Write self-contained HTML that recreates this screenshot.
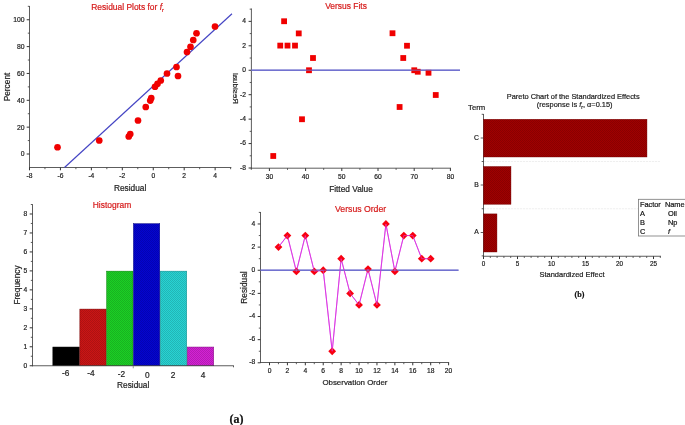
<!DOCTYPE html>
<html lang="en">
<head>
<meta charset="utf-8">
<title>Residual Plots and Pareto Chart</title>
<style>
html,body{margin:0;padding:0;background:#fff;}
body{width:685px;height:425px;overflow:hidden;}
svg{display:block;font-family:"Liberation Sans",Arial,sans-serif;}
text{stroke-width:0.2px;}
</style>
</head>
<body>
<svg width="685" height="425" viewBox="0 0 685 425">
<rect width="685" height="425" fill="#ffffff"/>
<defs>
<pattern id="hx" width="2" height="2" patternUnits="userSpaceOnUse">
<rect x="0" y="0" width="1" height="1" fill="#000" fill-opacity="0.14" shape-rendering="crispEdges"/>
<rect x="1" y="1" width="1" height="1" fill="#000" fill-opacity="0.14" shape-rendering="crispEdges"/>
</pattern>
</defs>
<line x1="29.50" y1="6.00" x2="29.50" y2="168.00" stroke="#404040" stroke-width="0.85" />
<line x1="26.70" y1="154.00" x2="29.50" y2="154.00" stroke="#333" stroke-width="1.0" />
<text x="24.50" y="156.45" font-size="6.8" text-anchor="end" fill="#222" stroke="#222" >0</text>
<line x1="26.70" y1="127.15" x2="29.50" y2="127.15" stroke="#333" stroke-width="1.0" />
<text x="24.50" y="129.60" font-size="6.8" text-anchor="end" fill="#222" stroke="#222" >20</text>
<line x1="26.70" y1="100.30" x2="29.50" y2="100.30" stroke="#333" stroke-width="1.0" />
<text x="24.50" y="102.75" font-size="6.8" text-anchor="end" fill="#222" stroke="#222" >40</text>
<line x1="26.70" y1="73.45" x2="29.50" y2="73.45" stroke="#333" stroke-width="1.0" />
<text x="24.50" y="75.90" font-size="6.8" text-anchor="end" fill="#222" stroke="#222" >60</text>
<line x1="26.70" y1="46.60" x2="29.50" y2="46.60" stroke="#333" stroke-width="1.0" />
<text x="24.50" y="49.05" font-size="6.8" text-anchor="end" fill="#222" stroke="#222" >80</text>
<line x1="26.70" y1="19.75" x2="29.50" y2="19.75" stroke="#333" stroke-width="1.0" />
<text x="24.50" y="22.20" font-size="6.8" text-anchor="end" fill="#222" stroke="#222" >100</text>
<line x1="27.80" y1="140.57" x2="29.50" y2="140.57" stroke="#404040" stroke-width="0.85" />
<line x1="27.80" y1="113.72" x2="29.50" y2="113.72" stroke="#404040" stroke-width="0.85" />
<line x1="27.80" y1="86.88" x2="29.50" y2="86.88" stroke="#404040" stroke-width="0.85" />
<line x1="27.80" y1="60.02" x2="29.50" y2="60.02" stroke="#404040" stroke-width="0.85" />
<line x1="27.80" y1="33.17" x2="29.50" y2="33.17" stroke="#404040" stroke-width="0.85" />
<line x1="27.80" y1="6.32" x2="29.50" y2="6.32" stroke="#404040" stroke-width="0.85" />
<line x1="29.00" y1="167.50" x2="231.30" y2="167.50" stroke="#404040" stroke-width="0.85" />
<line x1="29.49" y1="167.50" x2="29.49" y2="170.30" stroke="#333" stroke-width="1.0" />
<text x="29.49" y="178.16" font-size="6.7" text-anchor="middle" fill="#222" stroke="#222" >-8</text>
<line x1="60.43" y1="167.50" x2="60.43" y2="170.30" stroke="#333" stroke-width="1.0" />
<text x="60.43" y="178.16" font-size="6.7" text-anchor="middle" fill="#222" stroke="#222" >-6</text>
<line x1="91.37" y1="167.50" x2="91.37" y2="170.30" stroke="#333" stroke-width="1.0" />
<text x="91.37" y="178.16" font-size="6.7" text-anchor="middle" fill="#222" stroke="#222" >-4</text>
<line x1="122.31" y1="167.50" x2="122.31" y2="170.30" stroke="#333" stroke-width="1.0" />
<text x="122.31" y="178.16" font-size="6.7" text-anchor="middle" fill="#222" stroke="#222" >-2</text>
<line x1="153.25" y1="167.50" x2="153.25" y2="170.30" stroke="#333" stroke-width="1.0" />
<text x="153.25" y="178.16" font-size="6.7" text-anchor="middle" fill="#222" stroke="#222" >0</text>
<line x1="184.19" y1="167.50" x2="184.19" y2="170.30" stroke="#333" stroke-width="1.0" />
<text x="184.19" y="178.16" font-size="6.7" text-anchor="middle" fill="#222" stroke="#222" >2</text>
<line x1="215.13" y1="167.50" x2="215.13" y2="170.30" stroke="#333" stroke-width="1.0" />
<text x="215.13" y="178.16" font-size="6.7" text-anchor="middle" fill="#222" stroke="#222" >4</text>
<line x1="44.96" y1="167.50" x2="44.96" y2="169.20" stroke="#404040" stroke-width="0.85" />
<line x1="75.90" y1="167.50" x2="75.90" y2="169.20" stroke="#404040" stroke-width="0.85" />
<line x1="106.84" y1="167.50" x2="106.84" y2="169.20" stroke="#404040" stroke-width="0.85" />
<line x1="137.78" y1="167.50" x2="137.78" y2="169.20" stroke="#404040" stroke-width="0.85" />
<line x1="168.72" y1="167.50" x2="168.72" y2="169.20" stroke="#404040" stroke-width="0.85" />
<line x1="199.66" y1="167.50" x2="199.66" y2="169.20" stroke="#404040" stroke-width="0.85" />
<line x1="230.60" y1="167.50" x2="230.60" y2="169.20" stroke="#404040" stroke-width="0.85" />
<line x1="64.50" y1="167.50" x2="232.00" y2="13.75" stroke="#4444c4" stroke-width="1.15" />
<circle cx="57.5" cy="147.25" r="3.35" fill="#f00000"/>
<circle cx="99.25" cy="140.5" r="3.35" fill="#f00000"/>
<circle cx="128.75" cy="136.5" r="3.35" fill="#f00000"/>
<circle cx="130.25" cy="134" r="3.35" fill="#f00000"/>
<circle cx="138" cy="120.5" r="3.35" fill="#f00000"/>
<circle cx="145.75" cy="107" r="3.35" fill="#f00000"/>
<circle cx="150.25" cy="100.6" r="3.35" fill="#f00000"/>
<circle cx="151.25" cy="98" r="3.35" fill="#f00000"/>
<circle cx="155" cy="86.75" r="3.35" fill="#f00000"/>
<circle cx="157.5" cy="83.75" r="3.35" fill="#f00000"/>
<circle cx="160.75" cy="80.5" r="3.35" fill="#f00000"/>
<circle cx="167" cy="73.5" r="3.35" fill="#f00000"/>
<circle cx="176.5" cy="67" r="3.35" fill="#f00000"/>
<circle cx="178" cy="76" r="3.35" fill="#f00000"/>
<circle cx="187" cy="52" r="3.35" fill="#f00000"/>
<circle cx="190.5" cy="46.75" r="3.35" fill="#f00000"/>
<circle cx="193.25" cy="40" r="3.35" fill="#f00000"/>
<circle cx="196.5" cy="33.25" r="3.35" fill="#f00000"/>
<circle cx="215" cy="26.5" r="3.35" fill="#f00000"/>
<text x="127.60" y="10.00" font-size="8.45" text-anchor="middle" fill="#d61a1a" stroke="#d61a1a" >Residual Plots for <tspan font-style="italic">f</tspan><tspan font-size="5.5" dy="2">r</tspan></text>
<text transform="translate(6.50 87.00) rotate(-90)" font-size="8.3" text-anchor="middle" fill="#222" stroke="#222" dominant-baseline="central">Percent</text>
<text x="130.10" y="191.00" font-size="8.3" text-anchor="middle" fill="#222" stroke="#222" >Residual</text>
<line x1="251.40" y1="8.50" x2="251.40" y2="168.70" stroke="#404040" stroke-width="0.85" />
<line x1="248.60" y1="168.01" x2="251.40" y2="168.01" stroke="#333" stroke-width="1.0" />
<text x="246.00" y="169.92" font-size="6.7" text-anchor="end" fill="#222" stroke="#222" >-8</text>
<line x1="248.60" y1="143.57" x2="251.40" y2="143.57" stroke="#333" stroke-width="1.0" />
<text x="246.00" y="145.48" font-size="6.7" text-anchor="end" fill="#222" stroke="#222" >-6</text>
<line x1="248.60" y1="119.13" x2="251.40" y2="119.13" stroke="#333" stroke-width="1.0" />
<text x="246.00" y="121.04" font-size="6.7" text-anchor="end" fill="#222" stroke="#222" >-4</text>
<line x1="248.60" y1="94.69" x2="251.40" y2="94.69" stroke="#333" stroke-width="1.0" />
<text x="246.00" y="96.60" font-size="6.7" text-anchor="end" fill="#222" stroke="#222" >-2</text>
<line x1="248.60" y1="70.25" x2="251.40" y2="70.25" stroke="#333" stroke-width="1.0" />
<text x="246.00" y="72.16" font-size="6.7" text-anchor="end" fill="#222" stroke="#222" >0</text>
<line x1="248.60" y1="45.81" x2="251.40" y2="45.81" stroke="#333" stroke-width="1.0" />
<text x="246.00" y="47.72" font-size="6.7" text-anchor="end" fill="#222" stroke="#222" >2</text>
<line x1="248.60" y1="21.37" x2="251.40" y2="21.37" stroke="#333" stroke-width="1.0" />
<text x="246.00" y="23.28" font-size="6.7" text-anchor="end" fill="#222" stroke="#222" >4</text>
<line x1="249.70" y1="155.79" x2="251.40" y2="155.79" stroke="#404040" stroke-width="0.85" />
<line x1="249.70" y1="131.35" x2="251.40" y2="131.35" stroke="#404040" stroke-width="0.85" />
<line x1="249.70" y1="106.91" x2="251.40" y2="106.91" stroke="#404040" stroke-width="0.85" />
<line x1="249.70" y1="82.47" x2="251.40" y2="82.47" stroke="#404040" stroke-width="0.85" />
<line x1="249.70" y1="58.03" x2="251.40" y2="58.03" stroke="#404040" stroke-width="0.85" />
<line x1="249.70" y1="33.59" x2="251.40" y2="33.59" stroke="#404040" stroke-width="0.85" />
<line x1="249.70" y1="9.15" x2="251.40" y2="9.15" stroke="#404040" stroke-width="0.85" />
<line x1="250.90" y1="168.20" x2="451.00" y2="168.20" stroke="#404040" stroke-width="0.85" />
<line x1="269.40" y1="168.20" x2="269.40" y2="171.00" stroke="#333" stroke-width="1.0" />
<text x="269.40" y="178.66" font-size="6.7" text-anchor="middle" fill="#222" stroke="#222" >30</text>
<line x1="305.60" y1="168.20" x2="305.60" y2="171.00" stroke="#333" stroke-width="1.0" />
<text x="305.60" y="178.66" font-size="6.7" text-anchor="middle" fill="#222" stroke="#222" >40</text>
<line x1="341.80" y1="168.20" x2="341.80" y2="171.00" stroke="#333" stroke-width="1.0" />
<text x="341.80" y="178.66" font-size="6.7" text-anchor="middle" fill="#222" stroke="#222" >50</text>
<line x1="378.00" y1="168.20" x2="378.00" y2="171.00" stroke="#333" stroke-width="1.0" />
<text x="378.00" y="178.66" font-size="6.7" text-anchor="middle" fill="#222" stroke="#222" >60</text>
<line x1="414.20" y1="168.20" x2="414.20" y2="171.00" stroke="#333" stroke-width="1.0" />
<text x="414.20" y="178.66" font-size="6.7" text-anchor="middle" fill="#222" stroke="#222" >70</text>
<line x1="450.40" y1="168.20" x2="450.40" y2="171.00" stroke="#333" stroke-width="1.0" />
<text x="450.40" y="178.66" font-size="6.7" text-anchor="middle" fill="#222" stroke="#222" >80</text>
<line x1="251.30" y1="168.20" x2="251.30" y2="169.90" stroke="#404040" stroke-width="0.85" />
<line x1="287.50" y1="168.20" x2="287.50" y2="169.90" stroke="#404040" stroke-width="0.85" />
<line x1="323.70" y1="168.20" x2="323.70" y2="169.90" stroke="#404040" stroke-width="0.85" />
<line x1="359.90" y1="168.20" x2="359.90" y2="169.90" stroke="#404040" stroke-width="0.85" />
<line x1="396.10" y1="168.20" x2="396.10" y2="169.90" stroke="#404040" stroke-width="0.85" />
<line x1="432.30" y1="168.20" x2="432.30" y2="169.90" stroke="#404040" stroke-width="0.85" />
<line x1="251.40" y1="70.25" x2="460.00" y2="70.25" stroke="#7272d0" stroke-width="1.5" />
<rect x="281.20" y="18.35" width="5.8" height="5.8" fill="#f00000"/>
<rect x="277.35" y="42.70" width="5.8" height="5.8" fill="#f00000"/>
<rect x="284.60" y="42.70" width="5.8" height="5.8" fill="#f00000"/>
<rect x="292.10" y="42.70" width="5.8" height="5.8" fill="#f00000"/>
<rect x="295.85" y="30.50" width="5.8" height="5.8" fill="#f00000"/>
<rect x="310.10" y="55.10" width="5.8" height="5.8" fill="#f00000"/>
<rect x="306.10" y="67.35" width="5.8" height="5.8" fill="#f00000"/>
<rect x="299.10" y="116.35" width="5.8" height="5.8" fill="#f00000"/>
<rect x="270.35" y="153.10" width="5.8" height="5.8" fill="#f00000"/>
<rect x="389.60" y="30.35" width="5.8" height="5.8" fill="#f00000"/>
<rect x="404.10" y="42.85" width="5.8" height="5.8" fill="#f00000"/>
<rect x="400.35" y="55.10" width="5.8" height="5.8" fill="#f00000"/>
<rect x="411.35" y="67.35" width="5.8" height="5.8" fill="#f00000"/>
<rect x="414.85" y="68.85" width="5.8" height="5.8" fill="#f00000"/>
<rect x="425.60" y="69.85" width="5.8" height="5.8" fill="#f00000"/>
<rect x="432.85" y="92.10" width="5.8" height="5.8" fill="#f00000"/>
<rect x="396.70" y="104.10" width="5.8" height="5.8" fill="#f00000"/>
<line x1="251.40" y1="70.25" x2="460.00" y2="70.25" stroke="#7272d0" stroke-width="1.5" stroke-opacity="0.55"/>
<text x="346.00" y="8.50" font-size="8.45" text-anchor="middle" fill="#d61a1a" stroke="#d61a1a" >Versus Fits</text>
<text transform="translate(235.40 88.50) rotate(-90) scale(0.97 -0.85)" font-size="8.3" text-anchor="middle" fill="#222" stroke="#222" dominant-baseline="central">Residual</text>
<text x="351.00" y="191.70" font-size="8.3" text-anchor="middle" fill="#222" stroke="#222" >Fitted Value</text>
<line x1="32.50" y1="204.25" x2="32.50" y2="366.25" stroke="#404040" stroke-width="0.85" />
<line x1="29.70" y1="365.75" x2="32.50" y2="365.75" stroke="#333" stroke-width="1.0" />
<text x="27.20" y="368.16" font-size="6.7" text-anchor="end" fill="#222" stroke="#222" >0</text>
<line x1="29.70" y1="346.78" x2="32.50" y2="346.78" stroke="#333" stroke-width="1.0" />
<text x="27.20" y="349.19" font-size="6.7" text-anchor="end" fill="#222" stroke="#222" >1</text>
<line x1="29.70" y1="327.81" x2="32.50" y2="327.81" stroke="#333" stroke-width="1.0" />
<text x="27.20" y="330.22" font-size="6.7" text-anchor="end" fill="#222" stroke="#222" >2</text>
<line x1="29.70" y1="308.84" x2="32.50" y2="308.84" stroke="#333" stroke-width="1.0" />
<text x="27.20" y="311.25" font-size="6.7" text-anchor="end" fill="#222" stroke="#222" >3</text>
<line x1="29.70" y1="289.87" x2="32.50" y2="289.87" stroke="#333" stroke-width="1.0" />
<text x="27.20" y="292.28" font-size="6.7" text-anchor="end" fill="#222" stroke="#222" >4</text>
<line x1="29.70" y1="270.90" x2="32.50" y2="270.90" stroke="#333" stroke-width="1.0" />
<text x="27.20" y="273.31" font-size="6.7" text-anchor="end" fill="#222" stroke="#222" >5</text>
<line x1="29.70" y1="251.93" x2="32.50" y2="251.93" stroke="#333" stroke-width="1.0" />
<text x="27.20" y="254.34" font-size="6.7" text-anchor="end" fill="#222" stroke="#222" >6</text>
<line x1="29.70" y1="232.96" x2="32.50" y2="232.96" stroke="#333" stroke-width="1.0" />
<text x="27.20" y="235.37" font-size="6.7" text-anchor="end" fill="#222" stroke="#222" >7</text>
<line x1="29.70" y1="213.99" x2="32.50" y2="213.99" stroke="#333" stroke-width="1.0" />
<text x="27.20" y="216.40" font-size="6.7" text-anchor="end" fill="#222" stroke="#222" >8</text>
<line x1="30.80" y1="356.26" x2="32.50" y2="356.26" stroke="#404040" stroke-width="0.85" />
<line x1="30.80" y1="337.30" x2="32.50" y2="337.30" stroke="#404040" stroke-width="0.85" />
<line x1="30.80" y1="318.32" x2="32.50" y2="318.32" stroke="#404040" stroke-width="0.85" />
<line x1="30.80" y1="299.36" x2="32.50" y2="299.36" stroke="#404040" stroke-width="0.85" />
<line x1="30.80" y1="280.38" x2="32.50" y2="280.38" stroke="#404040" stroke-width="0.85" />
<line x1="30.80" y1="261.42" x2="32.50" y2="261.42" stroke="#404040" stroke-width="0.85" />
<line x1="30.80" y1="242.44" x2="32.50" y2="242.44" stroke="#404040" stroke-width="0.85" />
<line x1="30.80" y1="223.48" x2="32.50" y2="223.48" stroke="#404040" stroke-width="0.85" />
<line x1="30.80" y1="204.50" x2="32.50" y2="204.50" stroke="#404040" stroke-width="0.85" />
<rect x="52.85" y="347.03" width="26.50" height="18.72" fill="#000000"/>
<rect x="52.85" y="347.03" width="26.50" height="18.72" fill="url(#hx)" stroke="#000" stroke-width="0.5"/>
<rect x="79.85" y="309.09" width="26.30" height="56.66" fill="#cb1515"/>
<rect x="79.85" y="309.09" width="26.30" height="56.66" fill="url(#hx)" stroke="#7a0808" stroke-width="0.5"/>
<rect x="106.65" y="271.15" width="26.30" height="94.60" fill="#1ccf25"/>
<rect x="106.65" y="271.15" width="26.30" height="94.60" fill="url(#hx)" stroke="#0a800a" stroke-width="0.5"/>
<rect x="133.45" y="223.73" width="26.30" height="142.02" fill="#0404d0"/>
<rect x="133.45" y="223.73" width="26.30" height="142.02" fill="url(#hx)" stroke="#000080" stroke-width="0.5"/>
<rect x="160.25" y="271.15" width="26.50" height="94.60" fill="#28d3d3"/>
<rect x="160.25" y="271.15" width="26.50" height="94.60" fill="url(#hx)" stroke="#108888" stroke-width="0.5"/>
<rect x="187.25" y="347.03" width="26.50" height="18.72" fill="#d321d3"/>
<rect x="187.25" y="347.03" width="26.50" height="18.72" fill="url(#hx)" stroke="#801080" stroke-width="0.5"/>
<line x1="32.00" y1="365.75" x2="233.80" y2="365.75" stroke="#404040" stroke-width="0.85" />
<line x1="233.50" y1="365.75" x2="233.50" y2="367.30" stroke="#404040" stroke-width="0.85" />
<line x1="133.25" y1="365.75" x2="133.25" y2="368.30" stroke="#888" stroke-width="0.85" />
<text x="65.75" y="376.19" font-size="8.3" text-anchor="middle" fill="#222" stroke="#222" >-6</text>
<text x="91.00" y="376.19" font-size="8.3" text-anchor="middle" fill="#222" stroke="#222" >-4</text>
<text x="121.50" y="376.89" font-size="8.3" text-anchor="middle" fill="#222" stroke="#222" >-2</text>
<text x="147.30" y="377.79" font-size="8.3" text-anchor="middle" fill="#222" stroke="#222" >0</text>
<text x="173.00" y="377.79" font-size="8.3" text-anchor="middle" fill="#222" stroke="#222" >2</text>
<text x="203.00" y="378.29" font-size="8.3" text-anchor="middle" fill="#222" stroke="#222" >4</text>
<text x="112.00" y="208.00" font-size="8.45" text-anchor="middle" fill="#d61a1a" stroke="#d61a1a" >Histogram</text>
<text transform="translate(17.00 285.00) rotate(-90)" font-size="8.3" text-anchor="middle" fill="#222" stroke="#222" dominant-baseline="central">Frequency</text>
<text x="133.20" y="388.00" font-size="8.3" text-anchor="middle" fill="#222" stroke="#222" >Residual</text>
<line x1="260.50" y1="212.00" x2="260.50" y2="363.00" stroke="#404040" stroke-width="0.85" />
<line x1="257.70" y1="362.81" x2="260.50" y2="362.81" stroke="#333" stroke-width="1.0" />
<text x="255.20" y="364.42" font-size="6.7" text-anchor="end" fill="#222" stroke="#222" >-8</text>
<line x1="257.70" y1="339.67" x2="260.50" y2="339.67" stroke="#333" stroke-width="1.0" />
<text x="255.20" y="341.28" font-size="6.7" text-anchor="end" fill="#222" stroke="#222" >-6</text>
<line x1="257.70" y1="316.53" x2="260.50" y2="316.53" stroke="#333" stroke-width="1.0" />
<text x="255.20" y="318.14" font-size="6.7" text-anchor="end" fill="#222" stroke="#222" >-4</text>
<line x1="257.70" y1="293.39" x2="260.50" y2="293.39" stroke="#333" stroke-width="1.0" />
<text x="255.20" y="295.00" font-size="6.7" text-anchor="end" fill="#222" stroke="#222" >-2</text>
<line x1="257.70" y1="270.25" x2="260.50" y2="270.25" stroke="#333" stroke-width="1.0" />
<text x="255.20" y="271.86" font-size="6.7" text-anchor="end" fill="#222" stroke="#222" >0</text>
<line x1="257.70" y1="247.11" x2="260.50" y2="247.11" stroke="#333" stroke-width="1.0" />
<text x="255.20" y="248.72" font-size="6.7" text-anchor="end" fill="#222" stroke="#222" >2</text>
<line x1="257.70" y1="223.97" x2="260.50" y2="223.97" stroke="#333" stroke-width="1.0" />
<text x="255.20" y="225.58" font-size="6.7" text-anchor="end" fill="#222" stroke="#222" >4</text>
<line x1="258.80" y1="351.24" x2="260.50" y2="351.24" stroke="#404040" stroke-width="0.85" />
<line x1="258.80" y1="328.10" x2="260.50" y2="328.10" stroke="#404040" stroke-width="0.85" />
<line x1="258.80" y1="304.96" x2="260.50" y2="304.96" stroke="#404040" stroke-width="0.85" />
<line x1="258.80" y1="281.82" x2="260.50" y2="281.82" stroke="#404040" stroke-width="0.85" />
<line x1="258.80" y1="258.68" x2="260.50" y2="258.68" stroke="#404040" stroke-width="0.85" />
<line x1="258.80" y1="235.54" x2="260.50" y2="235.54" stroke="#404040" stroke-width="0.85" />
<line x1="258.80" y1="212.40" x2="260.50" y2="212.40" stroke="#404040" stroke-width="0.85" />
<line x1="260.00" y1="362.50" x2="449.10" y2="362.50" stroke="#404040" stroke-width="0.85" />
<line x1="269.50" y1="362.50" x2="269.50" y2="365.30" stroke="#333" stroke-width="1.0" />
<text x="269.50" y="373.16" font-size="6.7" text-anchor="middle" fill="#222" stroke="#222" >0</text>
<line x1="287.41" y1="362.50" x2="287.41" y2="365.30" stroke="#333" stroke-width="1.0" />
<text x="287.41" y="373.16" font-size="6.7" text-anchor="middle" fill="#222" stroke="#222" >2</text>
<line x1="305.32" y1="362.50" x2="305.32" y2="365.30" stroke="#333" stroke-width="1.0" />
<text x="305.32" y="373.16" font-size="6.7" text-anchor="middle" fill="#222" stroke="#222" >4</text>
<line x1="323.23" y1="362.50" x2="323.23" y2="365.30" stroke="#333" stroke-width="1.0" />
<text x="323.23" y="373.16" font-size="6.7" text-anchor="middle" fill="#222" stroke="#222" >6</text>
<line x1="341.14" y1="362.50" x2="341.14" y2="365.30" stroke="#333" stroke-width="1.0" />
<text x="341.14" y="373.16" font-size="6.7" text-anchor="middle" fill="#222" stroke="#222" >8</text>
<line x1="359.05" y1="362.50" x2="359.05" y2="365.30" stroke="#333" stroke-width="1.0" />
<text x="359.05" y="373.16" font-size="6.7" text-anchor="middle" fill="#222" stroke="#222" >10</text>
<line x1="376.96" y1="362.50" x2="376.96" y2="365.30" stroke="#333" stroke-width="1.0" />
<text x="376.96" y="373.16" font-size="6.7" text-anchor="middle" fill="#222" stroke="#222" >12</text>
<line x1="394.87" y1="362.50" x2="394.87" y2="365.30" stroke="#333" stroke-width="1.0" />
<text x="394.87" y="373.16" font-size="6.7" text-anchor="middle" fill="#222" stroke="#222" >14</text>
<line x1="412.78" y1="362.50" x2="412.78" y2="365.30" stroke="#333" stroke-width="1.0" />
<text x="412.78" y="373.16" font-size="6.7" text-anchor="middle" fill="#222" stroke="#222" >16</text>
<line x1="430.69" y1="362.50" x2="430.69" y2="365.30" stroke="#333" stroke-width="1.0" />
<text x="430.69" y="373.16" font-size="6.7" text-anchor="middle" fill="#222" stroke="#222" >18</text>
<line x1="448.60" y1="362.50" x2="448.60" y2="365.30" stroke="#333" stroke-width="1.0" />
<text x="448.60" y="373.16" font-size="6.7" text-anchor="middle" fill="#222" stroke="#222" >20</text>
<line x1="278.45" y1="362.50" x2="278.45" y2="364.20" stroke="#404040" stroke-width="0.85" />
<line x1="296.37" y1="362.50" x2="296.37" y2="364.20" stroke="#404040" stroke-width="0.85" />
<line x1="314.27" y1="362.50" x2="314.27" y2="364.20" stroke="#404040" stroke-width="0.85" />
<line x1="332.19" y1="362.50" x2="332.19" y2="364.20" stroke="#404040" stroke-width="0.85" />
<line x1="350.10" y1="362.50" x2="350.10" y2="364.20" stroke="#404040" stroke-width="0.85" />
<line x1="368.00" y1="362.50" x2="368.00" y2="364.20" stroke="#404040" stroke-width="0.85" />
<line x1="385.92" y1="362.50" x2="385.92" y2="364.20" stroke="#404040" stroke-width="0.85" />
<line x1="403.82" y1="362.50" x2="403.82" y2="364.20" stroke="#404040" stroke-width="0.85" />
<line x1="421.74" y1="362.50" x2="421.74" y2="364.20" stroke="#404040" stroke-width="0.85" />
<line x1="439.64" y1="362.50" x2="439.64" y2="364.20" stroke="#404040" stroke-width="0.85" />
<line x1="260.50" y1="270.25" x2="458.50" y2="270.25" stroke="#7272d0" stroke-width="1.5" />
<polyline fill="none" stroke="#d424dc" stroke-width="0.95" points="278.45,247.11 287.41,235.54 296.37,271.41 305.32,235.54 314.27,271.41 323.23,270.25 332.19,351.24 341.14,258.68 350.10,293.39 359.05,304.96 368.00,269.09 376.96,304.96 385.92,223.97 394.87,271.41 403.82,235.54 412.78,235.54 421.74,258.68 430.69,258.68"/>
<polygon points="274.56,247.11 278.45,243.21 282.35,247.11 278.45,251.01" fill="#f80010"/>
<polygon points="283.51,235.54 287.41,231.64 291.31,235.54 287.41,239.44" fill="#f80010"/>
<polygon points="292.47,271.41 296.37,267.51 300.26,271.41 296.37,275.31" fill="#f80010"/>
<polygon points="301.42,235.54 305.32,231.64 309.22,235.54 305.32,239.44" fill="#f80010"/>
<polygon points="310.38,271.41 314.27,267.51 318.17,271.41 314.27,275.31" fill="#f80010"/>
<polygon points="319.33,270.25 323.23,266.35 327.13,270.25 323.23,274.15" fill="#f80010"/>
<polygon points="328.29,351.24 332.19,347.34 336.08,351.24 332.19,355.14" fill="#f80010"/>
<polygon points="337.24,258.68 341.14,254.78 345.04,258.68 341.14,262.58" fill="#f80010"/>
<polygon points="346.20,293.39 350.10,289.49 354.00,293.39 350.10,297.29" fill="#f80010"/>
<polygon points="355.15,304.96 359.05,301.06 362.95,304.96 359.05,308.86" fill="#f80010"/>
<polygon points="364.11,269.09 368.00,265.19 371.90,269.09 368.00,272.99" fill="#f80010"/>
<polygon points="373.06,304.96 376.96,301.06 380.86,304.96 376.96,308.86" fill="#f80010"/>
<polygon points="382.02,223.97 385.92,220.07 389.81,223.97 385.92,227.87" fill="#f80010"/>
<polygon points="390.97,271.41 394.87,267.51 398.77,271.41 394.87,275.31" fill="#f80010"/>
<polygon points="399.93,235.54 403.82,231.64 407.72,235.54 403.82,239.44" fill="#f80010"/>
<polygon points="408.88,235.54 412.78,231.64 416.68,235.54 412.78,239.44" fill="#f80010"/>
<polygon points="417.84,258.68 421.74,254.78 425.63,258.68 421.74,262.58" fill="#f80010"/>
<polygon points="426.79,258.68 430.69,254.78 434.59,258.68 430.69,262.58" fill="#f80010"/>
<polyline fill="none" stroke="#e040e8" stroke-width="0.95" stroke-opacity="0.6" points="278.45,247.11 287.41,235.54 296.37,271.41 305.32,235.54 314.27,271.41 323.23,270.25 332.19,351.24 341.14,258.68 350.10,293.39 359.05,304.96 368.00,269.09 376.96,304.96 385.92,223.97 394.87,271.41 403.82,235.54 412.78,235.54 421.74,258.68 430.69,258.68"/>
<line x1="260.50" y1="270.25" x2="458.50" y2="270.25" stroke="#7272d0" stroke-width="1.5" stroke-opacity="0.5"/>
<text x="360.60" y="212.10" font-size="8.7" text-anchor="middle" fill="#d61a1a" stroke="#d61a1a" >Versus Order</text>
<text transform="translate(243.75 287.50) rotate(-90)" font-size="8.3" text-anchor="middle" fill="#222" stroke="#222" dominant-baseline="central">Residual</text>
<text x="354.90" y="384.90" font-size="7.92" text-anchor="middle" fill="#222" stroke="#222" >Observation Order</text>
<line x1="483.50" y1="114.00" x2="483.50" y2="256.50" stroke="#404040" stroke-width="0.85" />
<line x1="481.70" y1="114.30" x2="483.50" y2="114.30" stroke="#404040" stroke-width="0.85" />
<line x1="480.70" y1="138.00" x2="483.50" y2="138.00" stroke="#404040" stroke-width="0.85" />
<text x="478.90" y="139.55" font-size="6.8" text-anchor="end" fill="#222" stroke="#222" stroke-width="0.1">C</text>
<line x1="480.70" y1="185.00" x2="483.50" y2="185.00" stroke="#404040" stroke-width="0.85" />
<text x="478.90" y="186.55" font-size="6.8" text-anchor="end" fill="#222" stroke="#222" stroke-width="0.1">B</text>
<line x1="480.70" y1="232.50" x2="483.50" y2="232.50" stroke="#404040" stroke-width="0.85" />
<text x="478.90" y="234.05" font-size="6.8" text-anchor="end" fill="#222" stroke="#222" stroke-width="0.1">A</text>
<line x1="481.70" y1="161.50" x2="483.50" y2="161.50" stroke="#404040" stroke-width="0.85" />
<line x1="481.70" y1="208.75" x2="483.50" y2="208.75" stroke="#404040" stroke-width="0.85" />
<line x1="481.70" y1="255.90" x2="483.50" y2="255.90" stroke="#404040" stroke-width="0.85" />
<line x1="484.00" y1="161.50" x2="660.00" y2="161.50" stroke="#ebebeb" stroke-width="0.8" stroke-dasharray="2.2 0.8"/>
<line x1="484.00" y1="208.75" x2="660.00" y2="208.75" stroke="#ebebeb" stroke-width="0.8" stroke-dasharray="2.2 0.8"/>
<rect x="483.5" y="119.25" width="163.47" height="37.75" fill="#a00000"/>
<rect x="483.5" y="119.25" width="163.47" height="37.75" fill="url(#hx)" stroke="#700000" stroke-width="0.4"/>
<rect x="483.5" y="166.5" width="27.47" height="37.75" fill="#a00000"/>
<rect x="483.5" y="166.5" width="27.47" height="37.75" fill="url(#hx)" stroke="#700000" stroke-width="0.4"/>
<rect x="483.5" y="213.9" width="13.46" height="38.099999999999994" fill="#a00000"/>
<rect x="483.5" y="213.9" width="13.46" height="38.099999999999994" fill="url(#hx)" stroke="#700000" stroke-width="0.4"/>
<line x1="483.00" y1="256.25" x2="661.00" y2="256.25" stroke="#404040" stroke-width="0.85" />
<line x1="483.50" y1="256.25" x2="483.50" y2="259.05" stroke="#333" stroke-width="1.0" />
<text x="483.50" y="266.17" font-size="6.3" text-anchor="middle" fill="#222" stroke="#222" >0</text>
<line x1="517.50" y1="256.25" x2="517.50" y2="259.05" stroke="#333" stroke-width="1.0" />
<text x="517.50" y="266.17" font-size="6.3" text-anchor="middle" fill="#222" stroke="#222" >5</text>
<line x1="551.50" y1="256.25" x2="551.50" y2="259.05" stroke="#333" stroke-width="1.0" />
<text x="551.50" y="266.17" font-size="6.3" text-anchor="middle" fill="#222" stroke="#222" >10</text>
<line x1="585.50" y1="256.25" x2="585.50" y2="259.05" stroke="#333" stroke-width="1.0" />
<text x="585.50" y="266.17" font-size="6.3" text-anchor="middle" fill="#222" stroke="#222" >15</text>
<line x1="619.50" y1="256.25" x2="619.50" y2="259.05" stroke="#333" stroke-width="1.0" />
<text x="619.50" y="266.17" font-size="6.3" text-anchor="middle" fill="#222" stroke="#222" >20</text>
<line x1="653.50" y1="256.25" x2="653.50" y2="259.05" stroke="#333" stroke-width="1.0" />
<text x="653.50" y="266.17" font-size="6.3" text-anchor="middle" fill="#222" stroke="#222" >25</text>
<line x1="490.30" y1="256.25" x2="490.30" y2="257.95" stroke="#404040" stroke-width="0.85" />
<line x1="497.10" y1="256.25" x2="497.10" y2="257.95" stroke="#404040" stroke-width="0.85" />
<line x1="503.90" y1="256.25" x2="503.90" y2="257.95" stroke="#404040" stroke-width="0.85" />
<line x1="510.70" y1="256.25" x2="510.70" y2="257.95" stroke="#404040" stroke-width="0.85" />
<line x1="524.30" y1="256.25" x2="524.30" y2="257.95" stroke="#404040" stroke-width="0.85" />
<line x1="531.10" y1="256.25" x2="531.10" y2="257.95" stroke="#404040" stroke-width="0.85" />
<line x1="537.90" y1="256.25" x2="537.90" y2="257.95" stroke="#404040" stroke-width="0.85" />
<line x1="544.70" y1="256.25" x2="544.70" y2="257.95" stroke="#404040" stroke-width="0.85" />
<line x1="558.30" y1="256.25" x2="558.30" y2="257.95" stroke="#404040" stroke-width="0.85" />
<line x1="565.10" y1="256.25" x2="565.10" y2="257.95" stroke="#404040" stroke-width="0.85" />
<line x1="571.90" y1="256.25" x2="571.90" y2="257.95" stroke="#404040" stroke-width="0.85" />
<line x1="578.70" y1="256.25" x2="578.70" y2="257.95" stroke="#404040" stroke-width="0.85" />
<line x1="592.30" y1="256.25" x2="592.30" y2="257.95" stroke="#404040" stroke-width="0.85" />
<line x1="599.10" y1="256.25" x2="599.10" y2="257.95" stroke="#404040" stroke-width="0.85" />
<line x1="605.90" y1="256.25" x2="605.90" y2="257.95" stroke="#404040" stroke-width="0.85" />
<line x1="612.70" y1="256.25" x2="612.70" y2="257.95" stroke="#404040" stroke-width="0.85" />
<line x1="626.30" y1="256.25" x2="626.30" y2="257.95" stroke="#404040" stroke-width="0.85" />
<line x1="633.10" y1="256.25" x2="633.10" y2="257.95" stroke="#404040" stroke-width="0.85" />
<line x1="639.90" y1="256.25" x2="639.90" y2="257.95" stroke="#404040" stroke-width="0.85" />
<line x1="646.70" y1="256.25" x2="646.70" y2="257.95" stroke="#404040" stroke-width="0.85" />
<line x1="660.30" y1="256.25" x2="660.30" y2="257.95" stroke="#404040" stroke-width="0.85" />
<text x="573.20" y="99.20" font-size="7.42" text-anchor="middle" fill="#222" stroke="#222" >Pareto Chart of the Standardized Effects</text>
<text x="574.70" y="107.00" font-size="7.42" text-anchor="middle" fill="#222" stroke="#222" >(response is <tspan font-style="italic">f</tspan><tspan font-size="5" dy="1.5">r</tspan><tspan dy="-1.5">, α=0.15)</tspan></text>
<text x="476.60" y="110.30" font-size="7.700000000000001" text-anchor="middle" fill="#222" stroke="#222" >Term</text>
<text x="572.00" y="277.00" font-size="7.47" text-anchor="middle" fill="#222" stroke="#222" >Standardized Effect</text>
<rect x="638.4" y="199.3" width="60" height="36.7" fill="#fff" stroke="#777" stroke-width="0.8"/>
<text x="639.90" y="207.26" font-size="7.4" text-anchor="start" fill="#111" stroke="#111" >Factor</text>
<text x="664.90" y="207.26" font-size="7.4" text-anchor="start" fill="#111" stroke="#111" >Name</text>
<text x="639.90" y="216.41" font-size="7.4" text-anchor="start" fill="#111" stroke="#111" >A</text>
<text x="667.90" y="216.41" font-size="7.4" text-anchor="start" fill="#111" stroke="#111" >Oil</text>
<text x="639.90" y="225.16" font-size="7.4" text-anchor="start" fill="#111" stroke="#111" >B</text>
<text x="667.90" y="225.16" font-size="7.4" text-anchor="start" fill="#111" stroke="#111" >Np</text>
<text x="639.90" y="234.16" font-size="7.4" text-anchor="start" fill="#111" stroke="#111" >C</text>
<text x="667.90" y="234.16" font-size="7.4" text-anchor="start" fill="#111" stroke="#111" font-style="italic">f</text>
<text x="236.60" y="423.00" font-size="12" text-anchor="middle" fill="#111" stroke="#111" font-family="'Liberation Serif', serif" font-weight="bold">(a)</text>
<text x="579.50" y="296.70" font-size="8" text-anchor="middle" fill="#111" stroke="#111" font-family="'Liberation Serif', serif" font-weight="bold">(b)</text>
</svg>
</body>
</html>
